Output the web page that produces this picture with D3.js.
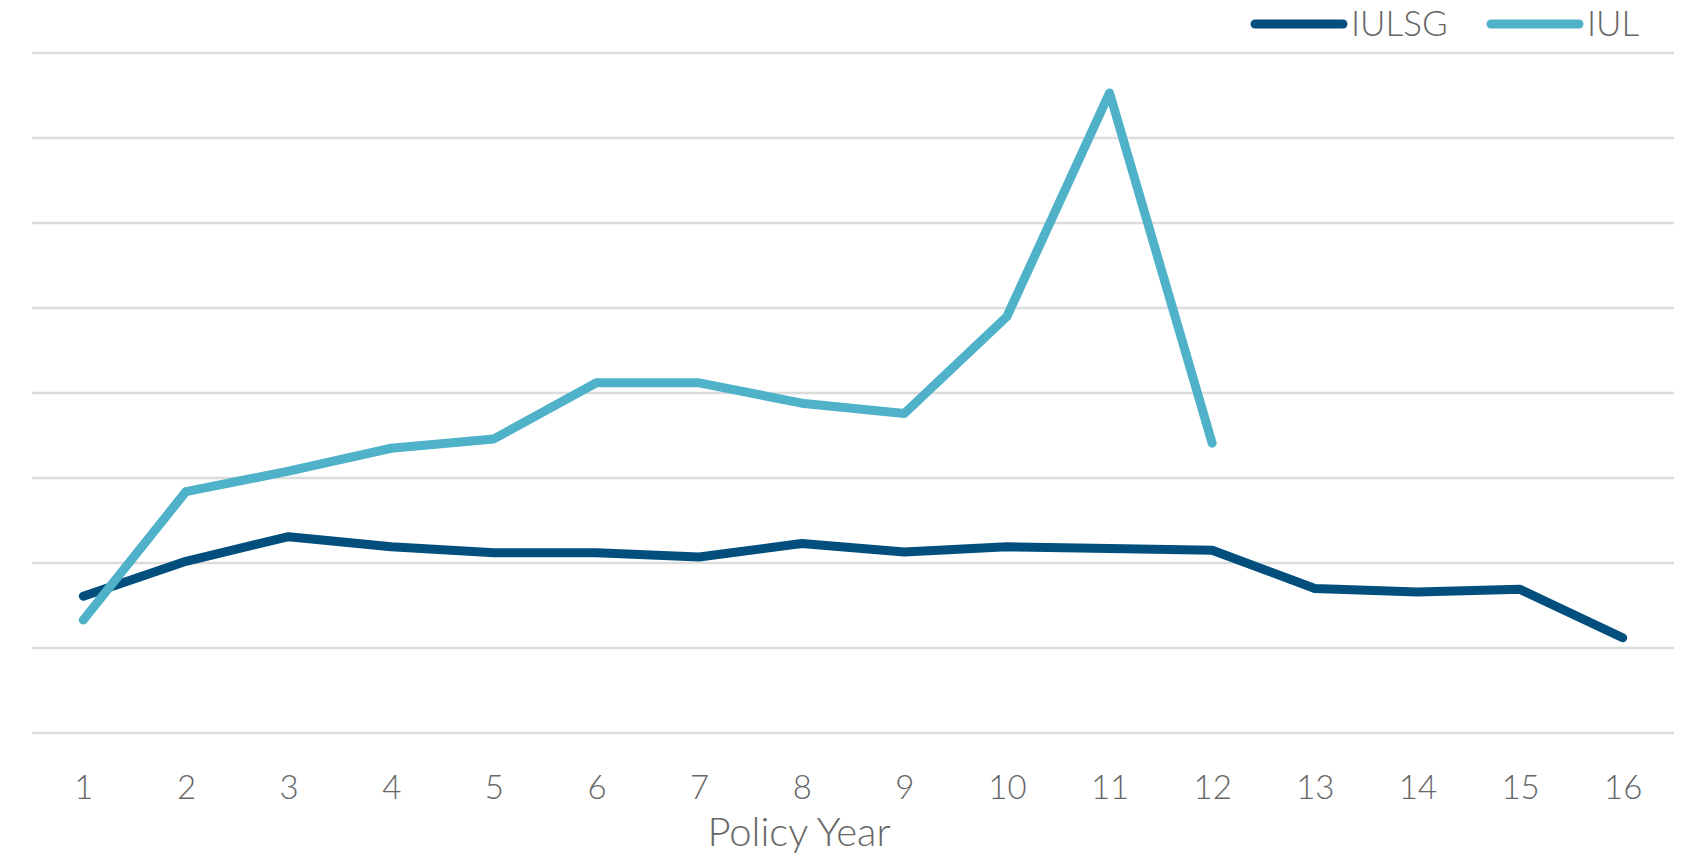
<!DOCTYPE html>
<html>
<head>
<meta charset="utf-8">
<script src="https://cdn.jsdelivr.net/npm/d3@7"></script>
<style>
  html, body { margin: 0; padding: 0; background: #ffffff; }
  svg { display: block; }
  text { font-family: Lato, "Open Sans", sans-serif; font-weight: 300; fill: #666666; }
</style>
</head>
<body>
<svg id="chart" width="1690" height="856"></svg>
<script>
// Policy years on the horizontal axis
const policyYears = [1, 2, 3, 4, 5, 6, 7, 8, 9, 10, 11, 12, 13, 14, 15, 16];

// Series values per policy year (unlabelled value axis, one unit per gridline)
const iulsgValues = [1.61, 2.02, 2.31, 2.19, 2.12, 2.12, 2.07, 2.23, 2.13, 2.19, 2.17, 2.15, 1.70, 1.66, 1.69, 1.12];
const iulValues   = [1.33, 2.84, 3.08, 3.35, 3.46, 4.12, 4.12, 3.88, 3.76, 4.90, 7.53, 3.41, null, null, null, null];

// Gridline values
const gridValues = [0, 1, 2, 3, 4, 5, 6, 7, 8];

const seriesNames = ["IULSG", "IUL"];
const seriesColors = ["#024f7d", "#4fb2c9"];
const axisTitle = "Policy Year";

const svg = d3.select("#chart");

const plot = { left: 32, right: 1674, top: 53, bottom: 733 };

const x = d3.scalePoint()
  .domain(policyYears)
  .range([plot.left, plot.right])
  .padding(0.5);

const y = d3.scaleLinear()
  .domain([0, 8])
  .range([plot.bottom, plot.top]);

// Horizontal gridlines
svg.append("g")
  .selectAll("line")
  .data(gridValues)
  .join("line")
  .attr("x1", plot.left)
  .attr("x2", plot.right)
  .attr("y1", d => y(d))
  .attr("y2", d => y(d))
  .attr("stroke", "#dcdcdc")
  .attr("stroke-width", 2.5);

// Category axis labels
const xAxis = d3.axisBottom(x).tickSize(0).tickPadding(0);
const gx = svg.append("g")
  .attr("transform", `translate(0, ${plot.bottom})`)
  .call(xAxis);
gx.select(".domain").remove();
gx.selectAll("text")
  .attr("y", 66)
  .attr("dy", 0)
  .style("font-size", "33px")
  .style("font-family", "Lato, sans-serif")
  .style("font-weight", 300)
  .attr("fill", "#666666");

// Axis title
svg.append("text")
  .attr("x", 799)
  .attr("y", 846)
  .attr("text-anchor", "middle")
  .style("font-size", "40px")
  .text(axisTitle);

// Series lines
const line = d3.line()
  .defined(d => d.v !== null)
  .x(d => x(d.year))
  .y(d => y(d.v));

const series = [iulsgValues, iulValues].map((vals, i) => ({
  name: seriesNames[i],
  color: seriesColors[i],
  points: policyYears.map((yr, j) => ({ year: yr, v: vals[j] }))
}));

svg.append("g")
  .selectAll("path")
  .data(series)
  .join("path")
  .attr("d", d => line(d.points))
  .attr("fill", "none")
  .attr("stroke", d => d.color)
  .attr("stroke-width", 9)
  .attr("stroke-linejoin", "round")
  .attr("stroke-linecap", "round");

// Legend
const legendItems = [
  { name: seriesNames[0], color: seriesColors[0], x1: 1255, x2: 1343, tx: 1351 },
  { name: seriesNames[1], color: seriesColors[1], x1: 1491, x2: 1579, tx: 1587 }
];
const legend = svg.append("g");
legend.selectAll("line")
  .data(legendItems)
  .join("line")
  .attr("x1", d => d.x1)
  .attr("x2", d => d.x2)
  .attr("y1", 24)
  .attr("y2", 24)
  .attr("stroke", d => d.color)
  .attr("stroke-width", 9)
  .attr("stroke-linecap", "round");
legend.selectAll("text")
  .data(legendItems)
  .join("text")
  .attr("x", d => d.tx)
  .attr("y", 36)
  .style("font-size", "35px")
  .text(d => d.name);
</script>
</body>
</html>
